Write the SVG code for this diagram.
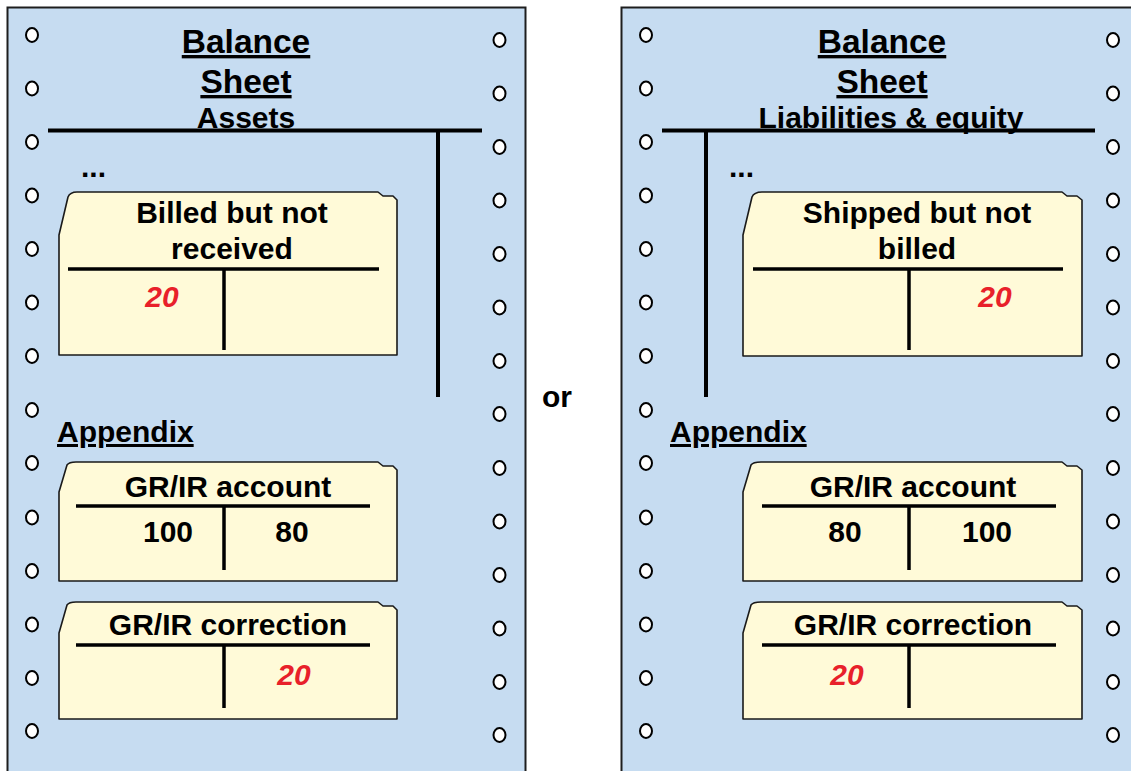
<svg xmlns="http://www.w3.org/2000/svg" xmlns:xlink="http://www.w3.org/1999/xlink" width="1131" height="771" viewBox="0 0 1131 771">
<style>
.sheet{fill:#c6dcf1;stroke:#1e1e1e;stroke-width:2}
.hole{fill:#fff;stroke:#000;stroke-width:2}
.folder{fill:#fffad8;stroke:#1a1a1a;stroke-width:1.6;stroke-linejoin:round}
.t{font-family:"Liberation Sans",Arial,Helvetica,sans-serif;font-weight:bold;fill:#000}
.big{font-size:33.5px;text-decoration:underline}
.mid{font-size:30px}
.u{text-decoration:underline}
.red{fill:#e8202a;font-style:italic}
.c{text-anchor:middle}
.ln{stroke:#000;stroke-width:4;fill:none}
.ln3{stroke:#000;stroke-width:3.5;fill:none}
</style>
<defs>
<ellipse id="h" cx="0" cy="0" rx="6" ry="7" class="hole"/>
</defs>

<g id="sheet-assets">
<rect class="sheet" x="7.5" y="7.5" width="518" height="790"/>
<g id="holes-left">
<use xlink:href="#h" x="32" y="35"/><use xlink:href="#h" x="32" y="88.5"/><use xlink:href="#h" x="32" y="142"/><use xlink:href="#h" x="32" y="195.5"/><use xlink:href="#h" x="32" y="249"/><use xlink:href="#h" x="32" y="302.5"/><use xlink:href="#h" x="32" y="356"/><use xlink:href="#h" x="32" y="410"/><use xlink:href="#h" x="32" y="463"/><use xlink:href="#h" x="32" y="517.5"/><use xlink:href="#h" x="32" y="571"/><use xlink:href="#h" x="32" y="624.5"/><use xlink:href="#h" x="32" y="678"/><use xlink:href="#h" x="32" y="731"/>
<use xlink:href="#h" x="499.5" y="40"/><use xlink:href="#h" x="499.5" y="93.5"/><use xlink:href="#h" x="499.5" y="147"/><use xlink:href="#h" x="499.5" y="200.5"/><use xlink:href="#h" x="499.5" y="254"/><use xlink:href="#h" x="499.5" y="307.5"/><use xlink:href="#h" x="499.5" y="361"/><use xlink:href="#h" x="499.5" y="414"/><use xlink:href="#h" x="499.5" y="468"/><use xlink:href="#h" x="499.5" y="521.5"/><use xlink:href="#h" x="499.5" y="575"/><use xlink:href="#h" x="499.5" y="628.5"/><use xlink:href="#h" x="499.5" y="682"/><use xlink:href="#h" x="499.5" y="735"/>
</g>
<text class="t big c" x="246" y="53">Balance</text>
<text class="t big c" x="246" y="93">Sheet</text>
<text class="t mid c" x="246" y="128">Assets</text>
<path class="ln" d="M48,130.5 H482 M438,130.5 V397"/>
<text class="t mid" x="81" y="177">...</text>
<text class="t mid u" x="57" y="442">Appendix</text>
</g>

<g id="folder-billed">
<path class="folder" d="M59,355 V235 L68,197 Q70,192 77,192 H378 L383,196 H393 L397,200 V355 Z"/>
<text class="t mid c" x="232" y="223">Billed but not</text>
<text class="t mid c" x="232" y="259">received</text>
<path class="ln3" d="M68,269 H379 M224,269 V350"/>
<text class="t mid red c" x="162" y="307">20</text>
</g>

<g id="folder-grir-left">
<path class="folder" d="M59,581 V492 L67,465 Q69,462 76,462 H378 L383,466 H393 L397,470 V581 Z"/>
<text class="t mid c" x="228" y="497">GR/IR account</text>
<path class="ln3" d="M76,506 H370 M224,506 V570"/>
<text class="t mid c" x="168" y="542">100</text>
<text class="t mid c" x="292" y="542">80</text>
</g>

<g id="folder-corr-left">
<path class="folder" d="M59,719 V633 L67,605 Q69,602 76,602 H378 L383,606 H393 L397,610 V719 Z"/>
<text class="t mid c" x="228" y="635">GR/IR correction</text>
<path class="ln3" d="M76,645 H370 M224,645 V708"/>
<text class="t mid red c" x="294" y="685">20</text>
</g>

<g id="or-label">
<text class="t mid c" x="557" y="407">or</text>
</g>

<g id="sheet-liabilities">
<rect class="sheet" x="621.5" y="7.5" width="520" height="790"/>
<g id="holes-right">
<use xlink:href="#h" x="646" y="35"/><use xlink:href="#h" x="646" y="88.5"/><use xlink:href="#h" x="646" y="142"/><use xlink:href="#h" x="646" y="195.5"/><use xlink:href="#h" x="646" y="249"/><use xlink:href="#h" x="646" y="302.5"/><use xlink:href="#h" x="646" y="356"/><use xlink:href="#h" x="646" y="410"/><use xlink:href="#h" x="646" y="463"/><use xlink:href="#h" x="646" y="517.5"/><use xlink:href="#h" x="646" y="571"/><use xlink:href="#h" x="646" y="624.5"/><use xlink:href="#h" x="646" y="678"/><use xlink:href="#h" x="646" y="731"/>
<use xlink:href="#h" x="1113" y="40"/><use xlink:href="#h" x="1113" y="93.5"/><use xlink:href="#h" x="1113" y="147"/><use xlink:href="#h" x="1113" y="200.5"/><use xlink:href="#h" x="1113" y="254"/><use xlink:href="#h" x="1113" y="307.5"/><use xlink:href="#h" x="1113" y="361"/><use xlink:href="#h" x="1113" y="414"/><use xlink:href="#h" x="1113" y="468"/><use xlink:href="#h" x="1113" y="521.5"/><use xlink:href="#h" x="1113" y="575"/><use xlink:href="#h" x="1113" y="628.5"/><use xlink:href="#h" x="1113" y="682"/><use xlink:href="#h" x="1113" y="735"/>
</g>
<text class="t big c" x="882" y="53">Balance</text>
<text class="t big c" x="882" y="93">Sheet</text>
<text class="t mid c" x="891" y="128">Liabilities &amp; equity</text>
<path class="ln" d="M662,130.5 H1095 M706,130.5 V397"/>
<text class="t mid" x="729" y="177">...</text>
<text class="t mid u" x="670" y="442">Appendix</text>
</g>

<g id="folder-shipped">
<path class="folder" d="M743,356 V235 L752,197 Q754,192 762,192 H1062 L1067,196 H1077 L1082,200 V356 Z"/>
<text class="t mid c" x="917" y="223">Shipped but not</text>
<text class="t mid c" x="917" y="259">billed</text>
<path class="ln3" d="M753,269 H1063 M909,269 V350"/>
<text class="t mid red c" x="995" y="307">20</text>
</g>

<g id="folder-grir-right">
<path class="folder" d="M743,581 V492 L751,465 Q753,462 761,462 H1062 L1067,466 H1077 L1082,470 V581 Z"/>
<text class="t mid c" x="913" y="497">GR/IR account</text>
<path class="ln3" d="M762,506 H1056 M909,506 V570"/>
<text class="t mid c" x="845" y="542">80</text>
<text class="t mid c" x="987" y="542">100</text>
</g>

<g id="folder-corr-right">
<path class="folder" d="M743,719 V633 L751,605 Q753,602 761,602 H1062 L1067,606 H1077 L1082,610 V719 Z"/>
<text class="t mid c" x="913" y="635">GR/IR correction</text>
<path class="ln3" d="M762,645 H1056 M909,645 V708"/>
<text class="t mid red c" x="847" y="685">20</text>
</g>
</svg>
